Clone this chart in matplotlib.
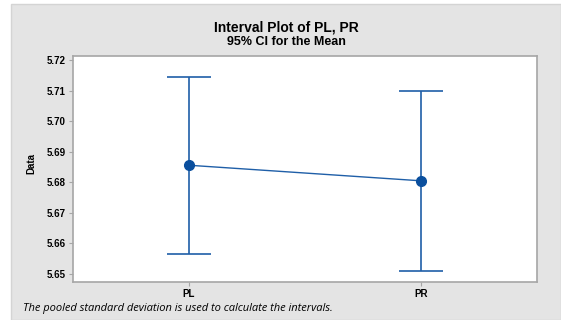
import matplotlib
matplotlib.use("Agg")
import matplotlib.pyplot as plt
from matplotlib.patches import Rectangle

# data (95% CI for the mean)
groups = ["PL", "PR"]
means = [5.6856, 5.6805]
lower = [5.6565, 5.6511]
upper = [5.7145, 5.7100]
yticks = [5.65, 5.66, 5.67, 5.68, 5.69, 5.70, 5.71, 5.72]

blue = "#1f5fa8"
frame = "#a6a6a6"

plt.rcParams["font.family"] = ["Liberation Sans", "DejaVu Sans"]

fig = plt.figure(figsize=(5.61, 3.2), dpi=100)
fig.patch.set_facecolor("white")

# grey background panel like minitab
fig.patches.append(Rectangle((11 / 561, 0), 1 - 11 / 561, 1 - 4 / 320,
                             transform=fig.transFigure, facecolor="#e4e4e4",
                             edgecolor="#d4d4d4", linewidth=1, zorder=-5))

ax = fig.add_axes([72.7 / 561, 38 / 320, 464.6 / 561, 226.5 / 320])
ax.set_facecolor("white")

x = list(range(len(groups)))
err_lo = [m - l for m, l in zip(means, lower)]
err_hi = [u - m for m, u in zip(means, upper)]
ax.errorbar(x, means, yerr=[err_lo, err_hi], fmt="none", ecolor=blue,
            elinewidth=1.2, capsize=16, capthick=1.2, zorder=2)
ax.plot(x, means, color=blue, linewidth=1.0, marker="o", markersize=7,
        markerfacecolor="#0a4f9e", markeredgecolor="#0a4f9e", zorder=3)

ax.set_xlim(-0.5, 1.5)
ax.set_ylim(5.6474, 5.7215)
ax.set_xticks(x)
ax.set_xticklabels(groups, fontsize=7, fontweight="bold")
ax.set_yticks(yticks)
ax.set_yticklabels(["%.2f" % v for v in yticks], fontsize=7, fontweight="bold")
ax.tick_params(axis="both", length=3, width=0.8, color=frame, pad=2)

for s in ax.spines.values():
    s.set_color(frame)
    s.set_linewidth(1.2)

fig.text(286 / 561, 1 - 28 / 320, "Interval Plot of PL, PR", ha="center", va="center",
         fontsize=10, fontweight="bold")
fig.text(286 / 561, 1 - 42 / 320, "95% CI for the Mean", ha="center", va="center",
         fontsize=9, fontweight="bold")
fig.text(31 / 561, 1 - 163 / 320, "Data", ha="center", va="center", rotation=90,
         fontsize=7, fontweight="bold")
fig.text(23 / 561, 1 - 309 / 320,
         "The pooled standard deviation is used to calculate the intervals.",
         ha="left", va="center", fontsize=8, style="italic",
         family=["Open Sans", "DejaVu Sans"])

fig.savefig("out.png", dpi=100)
